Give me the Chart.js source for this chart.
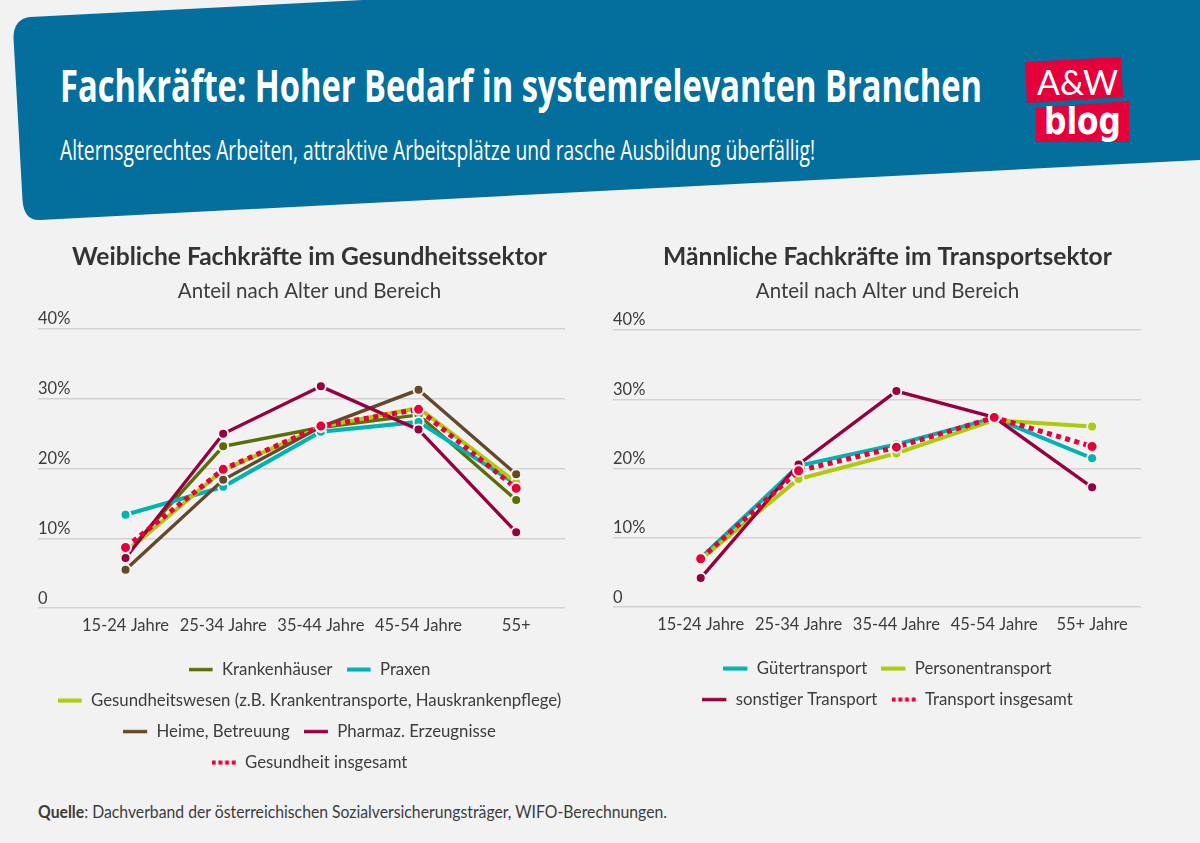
<!DOCTYPE html>
<html lang="de">
<head>
<meta charset="utf-8">
<title>Fachkräfte: Hoher Bedarf in systemrelevanten Branchen</title>
<script src="https://cdn.jsdelivr.net/npm/chart.js@4"></script>
<style>
  html, body { margin: 0; padding: 0; background: #f2f2f2; overflow: hidden; }
  #page { position: relative; width: 1200px; height: 843px; }
  #page svg { position: absolute; left: 0; top: 0; }
  .chart { position: absolute; top: 240px; }
</style>
</head>
<body>
<div id="page">
  <svg width="1200" height="843" viewBox="0 0 1200 843">
    <path d="M13.5 38 Q13.5 19 30 17 L363 0 L1200 0 L1200 160 L40 220 Q24 221 22.5 200 Z" fill="#046e9c"/>
    <text x="60" y="102" font-family="Open Sans" font-weight="700" font-size="45" fill="#fff" textLength="922" lengthAdjust="spacingAndGlyphs">Fachkräfte: Hoher Bedarf in systemrelevanten Branchen</text>
    <text x="60" y="160" font-family="Open Sans" font-size="27" fill="#fff" textLength="755" lengthAdjust="spacingAndGlyphs">Alternsgerechtes Arbeiten, attraktive Arbeitsplätze und rasche Ausbildung überfällig!</text>
    <polygon points="1025,62 1121,57 1123,97 1027,103" fill="#e4003a"/>
    <polygon points="1036,108 1129,101 1129,142 1036,142" fill="#e4003a"/>
    <text x="1037" y="95" font-family="Lato" font-size="35" fill="#fff" textLength="81" lengthAdjust="spacingAndGlyphs">A&amp;W</text>
    <text x="1044" y="134" font-family="DejaVu Sans" font-weight="700" font-size="38" fill="#fff" textLength="77" lengthAdjust="spacingAndGlyphs">blog</text>
    <text x="38" y="817.5" font-family="Lato" font-size="16.5" fill="#3c3c3c" textLength="629" lengthAdjust="spacingAndGlyphs"><tspan font-weight="700">Quelle</tspan>: Dachverband der österreichischen Sozialversicherungsträger, WIFO-Berechnungen.</text>
  </svg>
  <canvas id="chartLeft" class="chart" style="left:38px;width:543px;height:541px"></canvas>
  <canvas id="chartRight" class="chart" style="left:613px;width:549px;height:478px"></canvas>
</div>
<script>
const yTickLabels = ['0', '10%', '20%', '30%', '40%']

const healthAges = ['15-24 Jahre', '25-34 Jahre', '35-44 Jahre', '45-54 Jahre', '55+']
const krankenhaeuser = [7.8, 23.2, 25.9, 27.7, 15.5]
const praxen = [13.4, 17.4, 25.3, 26.7, 17.8]
const gesundheitswesen = [8.0, 19.8, 26.0, 28.7, 18.0]
const heime = [5.5, 18.4, 26.0, 31.3, 19.2]
const pharmaz = [7.2, 25.0, 31.8, 25.6, 10.9]
const gesundheitGesamt = [8.7, 19.9, 26.1, 28.5, 17.2]

const transportAges = ['15-24 Jahre', '25-34 Jahre', '35-44 Jahre', '45-54 Jahre', '55+ Jahre']
const gueter = [7.1, 20.4, 23.5, 27.3, 21.5]
const personen = [6.9, 18.5, 22.2, 27.0, 26.1]
const sonstiger = [4.2, 20.6, 31.2, 27.4, 17.3]
const transportGesamt = [7.0, 19.7, 23.1, 27.4, 23.2]

const OLIVE = '#5a6e05'
const TEAL = '#00b3b3'
const LIME = '#afca0b'
const BROWN = '#63492a'
const WINE = '#96003f'
const RED = '#e4003a'
const TEXT = '#3c3c3c'
const FONT = 'Lato'

// legend swatch, drawn by hand so the dotted one gets a shorter dash than the line
function swatch(color, width, dash) {
  const c = document.createElement('canvas')
  c.width = 25
  c.height = 5
  const g = c.getContext('2d')
  g.strokeStyle = color
  g.lineWidth = Math.min(width, 4)
  if (dash) g.setLineDash([4, 2.7])
  g.beginPath()
  g.moveTo(0, 2.5)
  g.lineTo(24, 2.5)
  g.stroke()
  return c
}

function line(label, data, color, width, index, dash) {
  return {
    label,
    data,
    yAxisID: 'y',
    borderColor: color,
    backgroundColor: color,
    borderWidth: width,
    borderDash: dash ? [5, 4.5] : [],
    pointBackgroundColor: color,
    pointBorderColor: '#f4f4ee',
    pointBorderWidth: 2,
    pointRadius: dash ? 5.5 : 5,
    pointHoverRadius: 5,
    tension: 0,
    order: 20 - index,
    swatch: swatch(color, width, dash),
  }
}

function makeChart(id, title, labels, datasets, legendWidth, leftWidth, rightGap, subPad) {
  const chart = new Chart(document.getElementById(id), {
    type: 'line',
    data: { labels, datasets },
    options: {
      responsive: false,
      animation: false,
      scales: {
        x: {
          offset: true,
          afterFit: (s) => { s.height += 11 },
          grid: { display: false },
          border: { display: false },
          ticks: { color: TEXT, font: { family: FONT, size: 16.5 }, maxRotation: 0, autoSkip: false, padding: 0 },
        },
        y: {
          min: 0,
          max: 40,
          afterFit: (s) => { s.width = leftWidth },
          grid: { color: '#d2d2d2', lineWidth: 1.6, tickLength: leftWidth, tickColor: '#d2d2d2', tickWidth: 1.6 },
          border: { display: false },
          ticks: {
            stepSize: 10,
            color: TEXT,
            font: { family: FONT, size: 16.5 },
            crossAlign: 'far',
            labelOffset: -10,
            padding: 0,
            callback: (v) => yTickLabels[v / 10],
          },
        },
        // empty axis, keeps the plot short of the right edge while title and legend stay centred on the canvas
        gap: {
          type: 'linear',
          position: 'right',
          afterFit: (s) => { s.width = rightGap },
          grid: { display: false },
          border: { display: false },
          ticks: { display: false },
        },
      },
      plugins: {
        title: {
          display: true,
          text: title,
          color: '#333',
          font: { family: FONT, size: 24.6, weight: 'bold' },
          padding: { top: 2, bottom: 8 },
        },
        subtitle: {
          display: true,
          text: 'Anteil nach Alter und Bereich',
          color: TEXT,
          font: { family: FONT, size: 20.5, weight: 'normal' },
          padding: { top: 0, bottom: subPad },
        },
        legend: {
          position: 'bottom',
          labels: {
            color: TEXT,
            font: { family: FONT, size: 16.8 },
            usePointStyle: true,
            pointStyleWidth: 25,
            boxHeight: 15,
            padding: 14.2,
            sort: (a, b) => a.datasetIndex - b.datasetIndex,
            generateLabels: (chart) => Chart.defaults.plugins.legend.labels.generateLabels(chart).map((item) => {
              item.pointStyle = chart.data.datasets[item.datasetIndex].swatch
              return item
            }),
          },
        },
        tooltip: { enabled: false },
      },
    },
  })
  // options.maxWidth does not change where a horizontal legend wraps, so narrow it before the rows are fitted
  const fit = chart.legend.fit
  chart.legend.fit = function () {
    this.maxWidth = Math.min(this.maxWidth, legendWidth)
    fit.call(this)
  }
  chart.update()
  return chart
}

function size(id, w, h) {
  const c = document.getElementById(id)
  c.width = w
  c.height = h
}

size('chartLeft', 543, 541)
size('chartRight', 549, 478)

makeChart('chartLeft', 'Weibliche Fachkräfte im Gesundheitssektor', healthAges, [
  line('Krankenhäuser', krankenhaeuser, OLIVE, 3.4, 0),
  line('Praxen', praxen, TEAL, 4, 1),
  line('Gesundheitswesen (z.B. Krankentransporte, Hauskrankenpflege)', gesundheitswesen, LIME, 4, 2),
  line('Heime, Betreuung', heime, BROWN, 3.4, 3),
  line('Pharmaz. Erzeugnisse', pharmaz, WINE, 3.4, 4),
  line('Gesundheit insgesamt', gesundheitGesamt, RED, 5, 5, true),
], 527, 38.7, 16, 25)

makeChart('chartRight', 'Männliche Fachkräfte im Transportsektor', transportAges, [
  line('Gütertransport', gueter, TEAL, 4, 0),
  line('Personentransport', personen, LIME, 4, 1),
  line('sonstiger Transport', sonstiger, WINE, 3.4, 2),
  line('Transport insgesamt', transportGesamt, RED, 5, 3, true),
], 420, 38.8, 21, 26)
</script>
</body>
</html>
